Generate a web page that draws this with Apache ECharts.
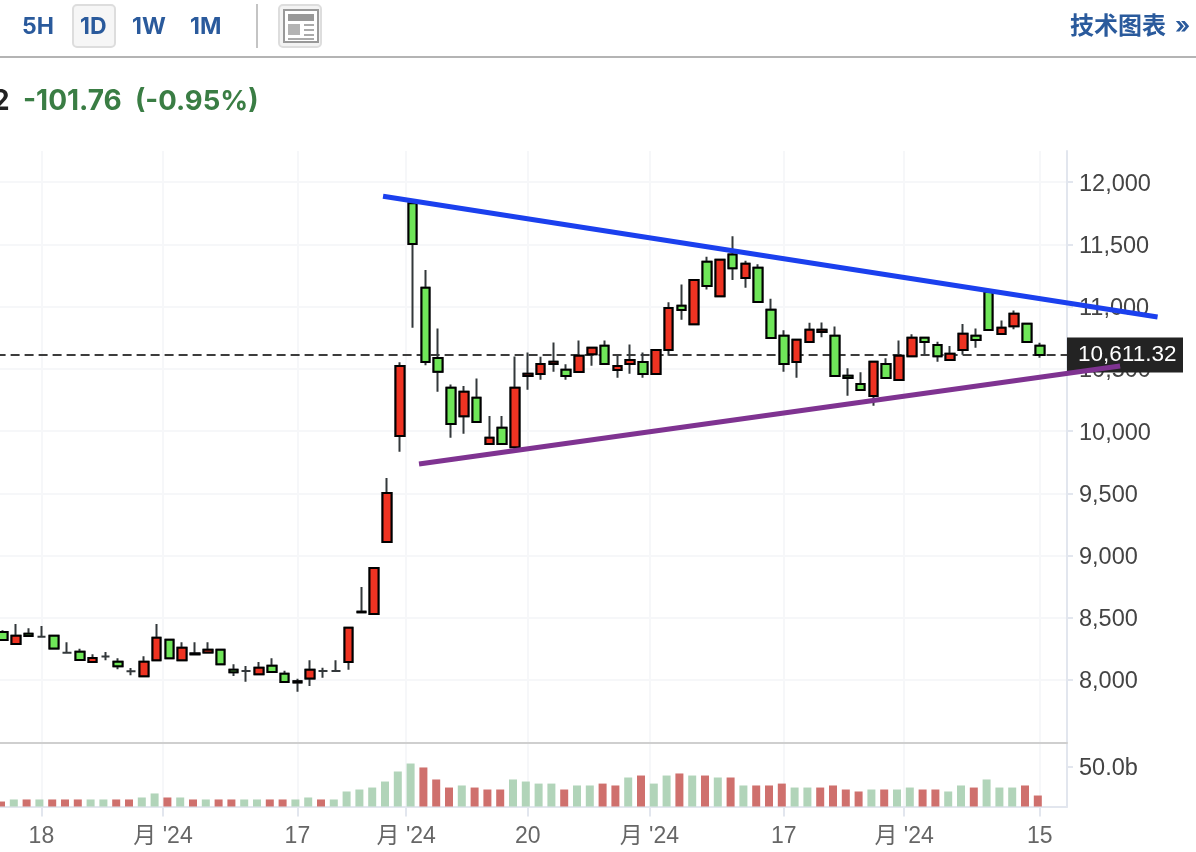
<!DOCTYPE html>
<html><head><meta charset="utf-8">
<style>html,body{margin:0;padding:0;background:#fff}#c{width:1196px;height:852px}</style>
<script src="https://cdn.jsdelivr.net/npm/echarts@6/dist/echarts.min.js"></script>
</head><body><div id="c"></div>
<script>
// open, close, low, high
const ohlc = [
[8386,8321,8313,8400],[8289,8356,8281,8450],[8372,8353,8345,8415],[8348,8348,8348,8434],[8356,8254,8246,8364],
[8220,8220,8220,8303],[8228,8161,8153,8252],[8145,8177,8137,8206],[8188,8188,8158,8225],[8147,8110,8086,8174],
[8070,8070,8038,8096],[8030,8147,8022,8190],[8158,8340,8150,8450],[8324,8174,8166,8332],[8158,8260,8150,8303],
[8206,8214,8198,8303],[8222,8244,8214,8303],[8244,8126,8118,8252],[8083,8062,8032,8126],[8072,8072,7987,8113],
[8046,8099,8038,8145],[8115,8064,8056,8174],[8051,7984,7976,8075],[7990,7981,7906,8011],[8013,8083,7952,8158],
[8072,8072,8019,8099],[8072,8072,8072,8158],[8145,8420,8083,8428],[8544,8549,8536,8747],[8530,8900,8522,8908],
[9108,9502,9100,9622],[9960,10522,9834,10552],[11830,11502,10830,11850],[11151,10554,10528,11293],[10586,10476,10316,10825],
[10348,10056,9946,10375],[10120,10316,9978,10362],[10268,10072,10064,10423],[9896,9946,9888,10121],[10027,9896,9888,10121],
[9869,10348,9847,10600],[10442,10460,10332,10632],[10458,10538,10412,10597],[10538,10557,10476,10712],[10492,10442,10412,10536],
[10474,10605,10466,10728],[10618,10669,10525,10677],[10685,10538,10530,10728],[10490,10522,10428,10605],[10538,10570,10460,10696],
[10554,10458,10428,10632],[10458,10651,10450,10659],[10651,10988,10605,11034],[11006,10972,10894,11178],[10859,11213,10851,11221],
[11360,11165,11138,11400],[11084,11376,11076,11384],[11419,11309,11213,11566],[11229,11344,11151,11368],[11312,11036,11028,11341],
[10974,10747,10739,11063],[10766,10538,10476,10809],[10554,10733,10428,10741],[10715,10814,10707,10870],[10795,10814,10753,10873],
[10766,10442,10434,10841],[10444,10426,10284,10504],[10378,10329,10321,10472],[10281,10557,10203,10565],[10538,10426,10418,10584],
[10410,10605,10402,10728],[10602,10749,10594,10777],[10749,10715,10613,10757],[10691,10602,10557,10717],[10570,10621,10562,10683],
[10651,10782,10613,10860],[10766,10731,10669,10825],[11117,10811,10803,11125],[10779,10830,10771,10889],[10843,10942,10817,10969],
[10862,10715,10707,10870],[10685,10611.32,10589,10709]
];
const volumes = [
6.3,8.9,8.9,8.9,8.9,8.9,8.9,8.9,8.9,8.9,8.9,11.4,16.5,11.4,11.4,8.9,8.9,8.9,8.9,8.9,
8.9,8.9,8.9,8.9,11.4,8.9,8.9,19,21.5,24,31.6,44.3,54.4,49.4,34.2,24,26.6,24,21.5,21.5,
34.2,31.6,29,29,21.5,26.6,26.6,29,26.6,36.7,39.2,29,39.2,41.8,39.2,39.2,36.7,36.7,26.6,26.6,
26.6,29,24,24,24,26.6,21.5,19,21.5,21.5,21.5,24,21.5,21.5,19,26.6,24,34.2,24,24,26.6,13.9
];
const volumeColors = ["RGRGR","RRGGR","RGGRG","RGRRG","GRRGG","RGGGG","GGGRR","RGRRR","GGGGR","GGRRG","RGGRG","RGRGR","RRGGR","RRRGR","GGRRG","GRGGG","RR"].join('');
const xTicks = [3,12.5,23,31.5,41,50.5,61,70.4,81];
const xTickLabels = ["18","月 '24","17","月 '24","20","月 '24","17","月 '24","15"];
const yTicks = [8000,8500,9000,9500,10000,10500,11000,11500,12000];
const volTicks = [50];
const lastPrice = 10611.32;
const blueTrend = [[29.69,11887],[90.2,10916]];
const purpleTrend = [[32.5,9735],[87.27,10522]];
const categories = Array.from({length:84},(_,i)=>'d'+i);

const FONT = '"Liberation Sans","Noto Sans CJK SC",sans-serif';
const HEAD = 'Inter,"Noto Sans CJK SC",sans-serif';
const bodies = ohlc.map(d => d[0]===d[1] ? '-' : [d[0],d[1],Math.min(d[0],d[1]),Math.max(d[0],d[1])]);
const BL='#2a5a9c';
const txt=(x,y,t,size,color,align)=>({type:'text',x,y,silent:true,style:{text:t,fontSize:size,fontFamily:HEAD,fontWeight:'bold',fill:color,textVerticalAlign:'middle',textAlign:align||'left'}});
const rect=(x,y,w,h,fill,stroke,lw,r)=>({type:'rect',silent:true,shape:{x,y,width:w,height:h,r:r||0},style:{fill:fill||'none',stroke:stroke||'none',lineWidth:lw||0}});

const chart = echarts.init(document.getElementById('c'),null,{renderer:'canvas',width:1196,height:852});
const candleStyle=(border)=>({color:'#ee3322',color0:'#6fe659',borderColor:border,borderColor0:border,borderColorDoji:border,borderWidth:2});
const G={show:false,outerBoundsMode:'none'};
const TOP=151,TOPH=591.25,VT=744,VH=62.5;
const LEFT=-3.4,BW=1075.2,AW=1070.4;
const gl={show:true,lineStyle:{color:'#f6f7f9',width:2}};
const axl=c=>({show:true,onZero:false,lineStyle:{color:c,width:2}});
const yRich={a:{fontSize:23.5,color:'#444',fontFamily:FONT,padding:[4,0,0,0]}};
chart.setOption({
 animation:false,
 backgroundColor:'#fff',
 textStyle:{fontFamily:FONT},
 grid:[
  {...G,left:LEFT,width:BW,top:TOP,height:TOPH},
  {...G,left:LEFT-2,width:BW,top:VT,height:VH},
  {...G,left:LEFT,width:AW,top:TOP,height:TOPH},
  {...G,left:LEFT,width:AW,top:VT,height:VH},
  {...G,left:LEFT,width:1199.4,top:TOP,height:TOPH}
 ],
 xAxis:[
  {type:'category',gridIndex:0,data:categories,show:false},
  {type:'category',gridIndex:1,data:categories,show:false},
  {type:'value',gridIndex:2,position:'bottom',min:-0.5,max:83.125,
   axisLine:axl('#cfcfcf'),axisTick:{show:false,customValues:xTicks},
   axisLabel:{show:false,customValues:xTicks},splitLine:gl},
  {type:'value',gridIndex:3,position:'bottom',min:-0.5,max:83.125,
   axisLine:axl('#e2e6ee'),
   axisTick:{show:true,length:10,customValues:xTicks,lineStyle:{color:'#e2e6ee',width:2}},
   axisLabel:{show:true,margin:19,customValues:xTicks,fontSize:23,color:'#666',fontFamily:FONT,hideOverlap:false,
     formatter:v=>xTickLabels[xTicks.indexOf(v)]},
   splitLine:gl},
  {type:'value',gridIndex:4,min:-0.5,max:93.2,show:false}
 ],
 yAxis:[
  {type:'value',gridIndex:0,min:7500,max:12250,show:false},
  {type:'value',gridIndex:1,min:0,max:79.1,show:false},
  {type:'value',gridIndex:2,position:'right',min:7500,max:12250,
   axisLine:axl('#e2e6ee'),
   axisTick:{show:true,length:6,customValues:yTicks,lineStyle:{color:'#e2e6ee',width:2}},
   axisLabel:{show:true,margin:12,customValues:yTicks,rich:yRich,
     formatter:v=>'{a|'+v.toLocaleString('en-US')+'}'},
   splitLine:gl},
  {type:'value',gridIndex:3,position:'right',min:0,max:79.1,
   axisLine:axl('#e2e6ee'),
   axisTick:{show:true,length:6,customValues:volTicks,lineStyle:{color:'#e2e6ee',width:2}},
   axisLabel:{show:true,margin:12,customValues:volTicks,rich:yRich,formatter:v=>'{a|'+v.toFixed(1)+'b}'},
   splitLine:{show:false}},
  {type:'value',gridIndex:4,min:7500,max:12250,show:false}
 ],
 series:[
  {name:'Last',type:'line',xAxisIndex:2,yAxisIndex:2,z:1,symbol:'none',silent:true,
   data:[[-0.5,lastPrice],[83.125,lastPrice]],
   lineStyle:{color:'#3c3c3c',width:2,type:[9,5]},
   endLabel:{show:true,distance:0,formatter:()=>lastPrice.toLocaleString('en-US',{minimumFractionDigits:2}),
     color:'#fff',fontSize:22.5,fontFamily:FONT,backgroundColor:'#232323',padding:[6,7,6,11],width:98,lineHeight:23}},
  {name:'Wicks',type:'candlestick',xAxisIndex:0,yAxisIndex:0,z:2,barWidth:9,data:ohlc,itemStyle:candleStyle('#33383b')},
  {name:'Bodies',type:'candlestick',xAxisIndex:0,yAxisIndex:0,z:3,barWidth:9,data:bodies,itemStyle:candleStyle('#000')},
  {name:'Volume',type:'bar',xAxisIndex:1,yAxisIndex:1,barWidth:8,
   data:volumes.map((v,i)=>({value:v,itemStyle:{color:volumeColors[i]==='G'?'#b1d4b9':'#cf706d'}}))},
  {name:'Resistance',type:'line',xAxisIndex:4,yAxisIndex:4,z:6,symbol:'none',silent:true,data:blueTrend,lineStyle:{color:'#1b40ee',width:5}},
  {name:'Support',type:'line',xAxisIndex:4,yAxisIndex:4,z:6,symbol:'none',silent:true,data:purpleTrend,lineStyle:{color:'#7f3391',width:5}}
 ],
 graphic:[
  rect(73,5,42,42,'#f6f6f6','#dddddd',2,4),
  txt(22,27,'5H',23,BL),txt(80,27,'1D',23,BL),txt(132,27,'1W',23,BL),txt(190,27,'1M',23,BL),
  rect(256,4,2,44,'#c4c4c4'),
  rect(279,5,42,42,'#f3f3f3','#dddddd',2,4),
  rect(284,10,34,32,'#fff','#999',2),
  rect(288,14,26,7,'#999'),rect(288,24,12,11,'#b3b3b3'),
  rect(304,24,10,2,'#aaa'),rect(304,29,10,2,'#aaa'),rect(304,34,10,2,'#aaa'),rect(288,38,26,2,'#aaa'),
  txt(1070,27,'技术图表',24,BL),txt(1175,26,'»',23,BL),
  rect(0,56,1196,2,'#b4b4b4'),
  txt(-8,102,'2',28,'#222'),
  txt(23,102,'-101.76',28,'#3a7d44'),txt(135,102,'(-0.95%)',27.5,'#3a7d44')
 ]
});
</script></body></html>
